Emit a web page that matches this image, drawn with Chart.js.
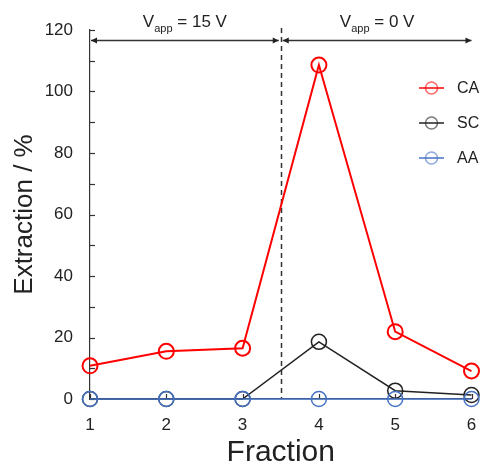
<!DOCTYPE html>
<html>
<head>
<meta charset="utf-8">
<script src="https://cdn.jsdelivr.net/npm/chart.js@4.4.1/dist/chart.umd.min.js"></script>
<style>
  html, body { margin: 0; padding: 0; background: #fff; }
</style>
</head>
<body>
<canvas id="chart" width="481" height="465"></canvas>
<script>
// Data
const fractions = [1, 2, 3, 4, 5, 6];
const caValues = [10.8, 15.5, 16.5, 108.6, 21.9, 9.1];
const scValues = [0, 0, 0, 18.6, 2.7, 1.3];
const aaValues = [0, 0, 0, 0, 0, 0];
const yTickLabels = [0, 20, 40, 60, 80, 100, 120];
const phaseVoltages = ["15 V", "0 V"];
const phaseBounds = [1, 3.5, 6];

const FONT = "'Liberation Sans', Arial, sans-serif";
const INK = "#222";

function toPoints(values) {
    return fractions.map((f, i) => ({ x: f, y: values[i] }));
}

// arrow head helper
function arrowHead(ctx, x, y, dir) {
    ctx.beginPath();
    ctx.moveTo(x, y);
    ctx.lineTo(x - dir * 6, y - 3);
    ctx.lineTo(x - dir * 6, y + 3);
    ctx.closePath();
    ctx.fill();
}

// Inward ticks, dashed divider, phase arrows and labels
const decor = {
    id: "decor",
    beforeDatasetsDraw(chart) {
        const { ctx, chartArea: a, scales: { x, y } } = chart;
        ctx.save();
        ctx.strokeStyle = "#333";
        ctx.fillStyle = INK;
        ctx.lineWidth = 1.2;

        y.ticks.forEach(t => {
            const py = Math.round(y.getPixelForValue(t.value)) + 0.5;
            ctx.beginPath();
            ctx.moveTo(a.left, py);
            ctx.lineTo(a.left + 5, py);
            ctx.stroke();
        });
        x.ticks.forEach(t => {
            const px = Math.round(x.getPixelForValue(t.value)) + 0.5;
            ctx.beginPath();
            ctx.moveTo(px, a.bottom);
            ctx.lineTo(px, a.bottom - 5);
            ctx.stroke();
        });

        // dashed divider between the two phases
        const sx = Math.round(x.getPixelForValue(phaseBounds[1])) + 0.5;
        ctx.lineWidth = 1.5;
        ctx.setLineDash([5, 4]);
        ctx.beginPath();
        ctx.moveTo(sx, a.top - 2);
        ctx.lineTo(sx, a.bottom);
        ctx.stroke();
        ctx.setLineDash([]);

        // phase arrows
        const ay = a.top + 10.5;
        ctx.lineWidth = 1.5;
        for (let i = 0; i < phaseVoltages.length; i++) {
            const x0 = x.getPixelForValue(phaseBounds[i]) + (i === 0 ? 1 : 2);
            const x1 = x.getPixelForValue(phaseBounds[i + 1]) - (i === 0 ? 2 : 0);
            ctx.beginPath();
            ctx.moveTo(x0, ay);
            ctx.lineTo(x1, ay);
            ctx.stroke();
            arrowHead(ctx, x0, ay, -1);
            arrowHead(ctx, x1, ay, 1);

            // "V_app = ..." label
            const main = "17px " + FONT, sub = "11px " + FONT;
            ctx.font = main;
            const wV = ctx.measureText("V").width;
            const wRest = ctx.measureText(" = " + phaseVoltages[i]).width;
            ctx.font = sub;
            const wSub = ctx.measureText("app").width;
            const cx = (x0 + x1) / 2;
            let tx = cx - (wV + wSub + wRest) / 2;
            const by = a.top - 3;
            ctx.textBaseline = "alphabetic";
            ctx.textAlign = "left";
            ctx.font = main;
            ctx.fillText("V", tx, by);
            tx += wV;
            ctx.font = sub;
            ctx.fillText("app", tx, by + 5);
            tx += wSub;
            ctx.font = main;
            ctx.fillText(" = " + phaseVoltages[i], tx, by);
        }
        ctx.restore();
    },
    afterDraw(chart) {
        // legend in the upper right
        const { ctx } = chart;
        ctx.save();
        chart.data.datasets.forEach((ds, i) => {
            const ly = 88 + i * 35;
            ctx.strokeStyle = ds.borderColor;
            ctx.lineWidth = 1.5;
            ctx.beginPath();
            ctx.moveTo(419, ly);
            ctx.lineTo(444, ly);
            ctx.stroke();
            ctx.globalAlpha = 0.6;
            ctx.beginPath();
            ctx.arc(431.5, ly, 6, 0, Math.PI * 2);
            ctx.stroke();
            ctx.globalAlpha = 1;
            ctx.fillStyle = INK;
            ctx.font = "16px " + FONT;
            ctx.textBaseline = "middle";
            ctx.fillText(ds.label, 457, ly + 1);
        });
        ctx.restore();
    }
};

new Chart(document.getElementById("chart"), {
    type: "line",
    data: {
        datasets: [
            {
                label: "CA",
                order: 0,
                data: toPoints(caValues),
                borderColor: "#ff0000",
                borderWidth: 2,
                pointRadius: 7.5,
                pointBorderWidth: 2,
                pointBackgroundColor: "rgba(0,0,0,0)",
                pointBorderColor: "#ff0000",
                clip: false,
            },
            {
                label: "SC",
                order: 2,
                data: toPoints(scValues),
                borderColor: "#222222",
                borderWidth: 1.5,
                pointRadius: 7.5,
                pointBorderWidth: 1.5,
                pointBackgroundColor: "rgba(0,0,0,0)",
                pointBorderColor: "#222222",
                clip: false,
            },
            {
                label: "AA",
                order: 1,
                data: toPoints(aaValues),
                borderColor: "#4472c4",
                borderWidth: 1.5,
                pointRadius: 7.5,
                pointBorderWidth: 1.5,
                pointBackgroundColor: "rgba(0,0,0,0)",
                pointBorderColor: "#4472c4",
                clip: false,
            },
        ],
    },
    options: {
        responsive: false,
        animation: false,
        layout: { padding: { top: 30, right: 8, left: 0, bottom: 0 } },
        plugins: { legend: { display: false }, tooltip: { enabled: false } },
        scales: {
            x: {
                type: "linear",
                min: fractions[0],
                max: fractions[fractions.length - 1],
                afterFit(scale) {
                    scale.height = 66;
                    scale.paddingLeft = 0;
                    scale.paddingRight = 0;
                },
                grid: { display: false, drawTicks: false },
                border: { display: true, color: "#333", width: 1.2 },
                ticks: {
                    stepSize: 1,
                    padding: 16,
                    color: INK,
                    font: { family: FONT, size: 17 },
                },
                title: {
                    display: true,
                    text: "Fraction",
                    color: INK,
                    font: { family: FONT, size: 30, lineHeight: 1 },
                    padding: { top: 0, bottom: -3 },
                },
            },
            y: {
                min: 0,
                max: 120,
                afterFit(scale) { scale.width = 90; },
                grid: { display: false, drawTicks: false },
                border: { display: true, color: "#333", width: 1.2 },
                ticks: {
                    stepSize: 10,
                    padding: 17,
                    color: INK,
                    font: { family: FONT, size: 17 },
                    callback: v => (yTickLabels.includes(v) ? v : ""),
                },
                title: {
                    display: true,
                    text: "Extraction / %",
                    color: INK,
                    font: { family: FONT, size: 26, lineHeight: 1 },
                    padding: { top: 12, bottom: 0 },
                },
            },
        },
    },
    plugins: [decor],
});
</script>
</body>
</html>
